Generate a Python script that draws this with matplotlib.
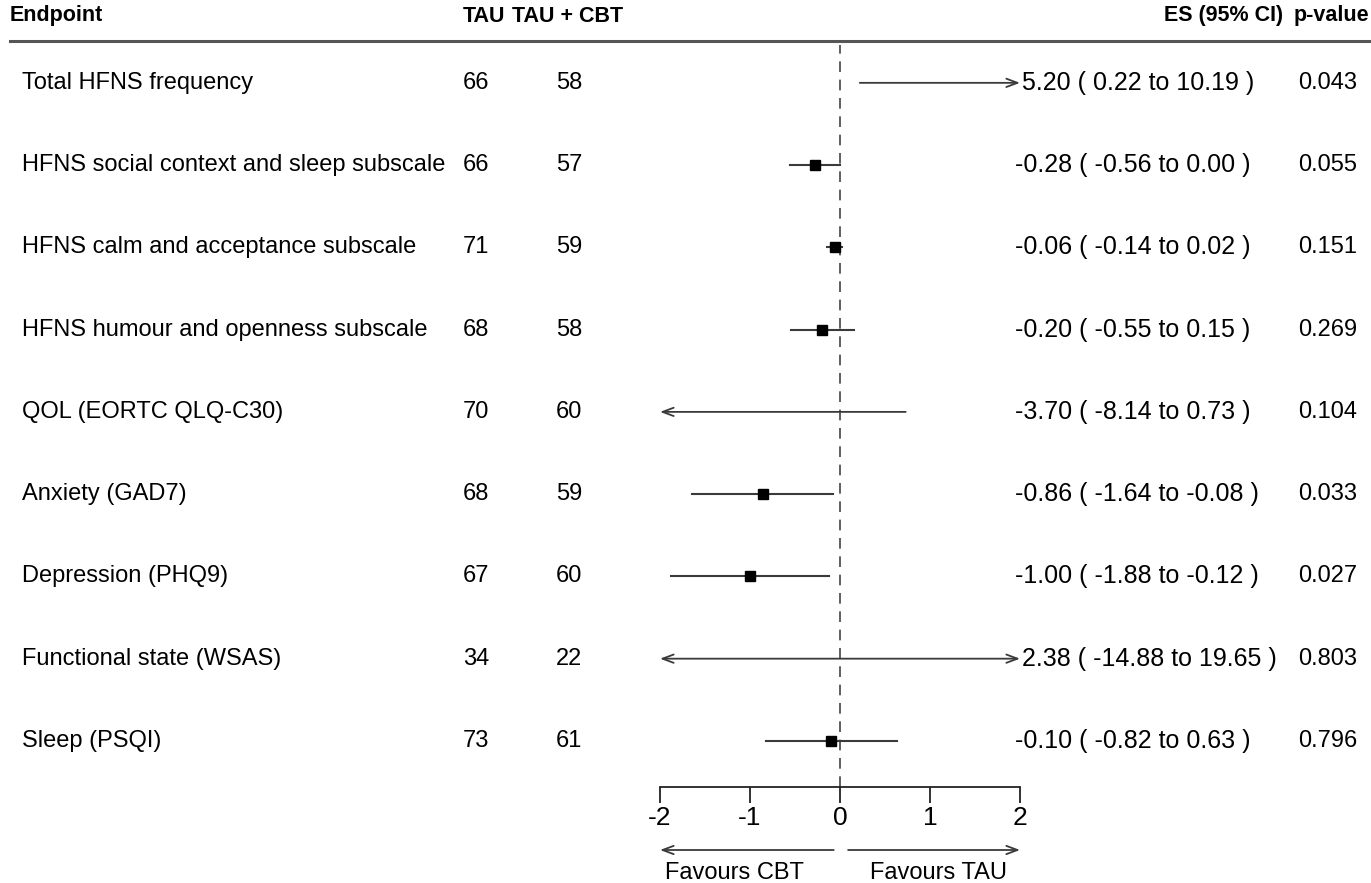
import numpy as np
import matplotlib
matplotlib.use('Agg')
from matplotlib import pyplot as plt
import matplotlib.transforms as mtransforms

plt.rcParams['font.family'] = ['Liberation Sans', 'DejaVu Sans']

#table columns
endpoints = ['Total HFNS frequency',
             'HFNS social context and sleep subscale',
             'HFNS calm and acceptance subscale',
             'HFNS humour and openness subscale',
             'QOL (EORTC QLQ-C30)',
             'Anxiety (GAD7)',
             'Depression (PHQ9)',
             'Functional state (WSAS)',
             'Sleep (PSQI)']
n_tau = [66, 66, 71, 68, 70, 68, 67, 34, 73]
n_cbt = [58, 57, 59, 58, 60, 59, 60, 22, 61]
es = [5.20, -0.28, -0.06, -0.20, -3.70, -0.86, -1.00, 2.38, -0.10]
ci_lo = [0.22, -0.56, -0.14, -0.55, -8.14, -1.64, -1.88, -14.88, -0.82]
ci_hi = [10.19, 0.00, 0.02, 0.15, 0.73, -0.08, -0.12, 19.65, 0.63]
pvals = ['0.043', '0.055', '0.151', '0.269', '0.104', '0.033', '0.027', '0.803', '0.796']
xticks = [-2, -1, 0, 1, 2]

W, H = 1371, 883
fs = 17
lcol = '#3a3a3a'

fig = plt.figure(figsize=(W/100, H/100), dpi=100)
fig.patch.set_facecolor('white')

#forest panel
ax = fig.add_axes([660/W, 1-787/H, 360/W, 742/H])
xmin, xmax = xticks[0], xticks[-1]
ax.set_xlim(xmin, xmax)
ax.set_ylim(8.56, -0.46)
for s in ['top', 'right', 'left']:
    ax.spines[s].set_visible(False)
ax.spines['bottom'].set_linewidth(1.3)
ax.spines['bottom'].set_color('#222222')
ax.set_yticks([])
ax.set_xticks(xticks)
ax.set_xticklabels([str(t) for t in xticks])
ax.tick_params(axis='x', direction='out', length=11.5, width=1.3, color='#222222',
               labelsize=19, pad=2)
ax.axvline(0, color='#333333', lw=1.1, ls=(0, (7, 5)), zorder=1)

for i in range(len(endpoints)):
    lo = max(ci_lo[i], xmin)
    hi = min(ci_hi[i], xmax)
    left_cut = ci_lo[i] < xmin
    right_cut = ci_hi[i] > xmax
    if left_cut and right_cut:
        style = '<->'
    elif left_cut:
        style = '<-'
    elif right_cut:
        style = '->'
    else:
        style = '-'
    if style == '-':
        ax.plot([lo, hi], [i, i], color=lcol, lw=1.5, zorder=2)
    else:
        ax.annotate('', xy=(hi, i), xytext=(lo, i),
                    arrowprops=dict(arrowstyle=style + ',head_length=0.8,head_width=0.3',
                                    color=lcol, lw=1.3, shrinkA=0, shrinkB=0))
    if xmin <= es[i] <= xmax:
        ax.plot(es[i], i, marker='s', ms=6.5, color='black', zorder=3)

#text columns
rowt = mtransforms.blended_transform_factory(fig.transFigure, ax.transData)
for i in range(len(endpoints)):
    fig.text(22/W, i, endpoints[i], transform=rowt, fontsize=fs, va='center', ha='left')
    fig.text(463/W, i, str(n_tau[i]), transform=rowt, fontsize=fs, va='center', ha='left')
    fig.text(556/W, i, str(n_cbt[i]), transform=rowt, fontsize=fs, va='center', ha='left')
    es_txt = f'{es[i]:.2f} ( {ci_lo[i]:.2f} to {ci_hi[i]:.2f} )'
    x_es = 1022 if ci_hi[i] > xmax else 1015
    fig.text(x_es/W, i, es_txt, transform=rowt, fontsize=18, va='center', ha='left')
    fig.text(1298/W, i, pvals[i], transform=rowt, fontsize=fs, va='center', ha='left')

#header
hy = 1 - 16/H
hkw = dict(fontsize=15.5, fontweight='bold', va='center')
fig.text(10/W, hy, 'Endpoint', ha='left', **hkw)
fig.text(463/W, hy, 'TAU', ha='left', **hkw)
fig.text(512/W, hy, 'TAU + CBT', ha='left', **hkw)
fig.text(1283/W, hy, 'ES (95% CI)', ha='right', **hkw)
fig.text(1369/W, hy, 'p-value', ha='right', **hkw)
fig.add_artist(plt.Line2D([10/W, 1], [1-41/H, 1-41/H], color='#555555', lw=2.2))

#favours arrows
bt = mtransforms.blended_transform_factory(ax.transData, fig.transFigure)
ay = 1 - 850/H
ax.annotate('', xy=(xmin, ay), xytext=(-0.07, ay), xycoords=bt, textcoords=bt,
            arrowprops=dict(arrowstyle='->,head_length=0.8,head_width=0.3', color=lcol,
                            lw=1.3, shrinkA=0, shrinkB=0), annotation_clip=False)
ax.annotate('', xy=(xmax, ay), xytext=(0.09, ay), xycoords=bt, textcoords=bt,
            arrowprops=dict(arrowstyle='->,head_length=0.8,head_width=0.3', color=lcol,
                            lw=1.3, shrinkA=0, shrinkB=0), annotation_clip=False)
ax.text(-1.17, 1 - 873/H, 'Favours CBT', transform=bt, fontsize=fs, ha='center', va='center')
ax.text(1.1, 1 - 873/H, 'Favours TAU', transform=bt, fontsize=fs, ha='center', va='center')

plt.savefig('out.png', dpi=100)
